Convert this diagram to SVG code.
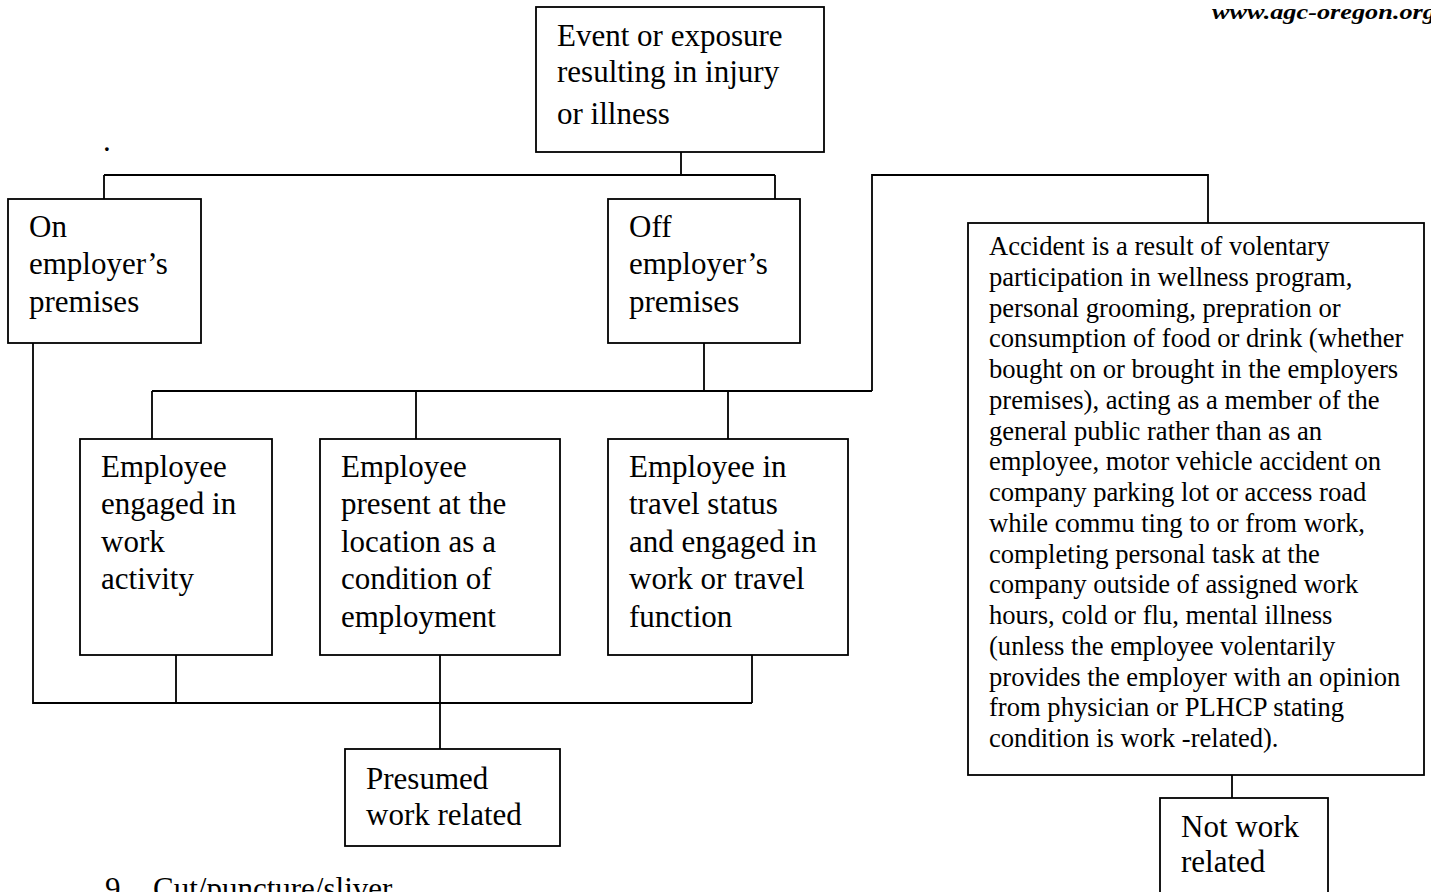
<svg xmlns="http://www.w3.org/2000/svg" width="1431" height="892" viewBox="0 0 1431 892">
<style>
.box{fill:#fff;stroke:#000;stroke-width:1.8}
.ln{fill:none;stroke:#000;stroke-width:1.8}
.big{font-family:"Liberation Serif","Times New Roman",serif;font-size:31px;fill:#000}
.sm{font-family:"Liberation Serif","Times New Roman",serif;font-size:26.6px;fill:#000}
.url{font-family:"Liberation Serif","Times New Roman",serif;font-size:21px;font-style:italic;font-weight:bold;fill:#000}
</style>
<rect width="1431" height="892" fill="#fff"/>
<text class="url" x="1212" y="19" textLength="224" lengthAdjust="spacingAndGlyphs">www.agc-oregon.org</text>
<text class="big" x="103" y="151" font-size="14">.</text>
<g id="connectors">
<path class="ln" d="M681,152V175M104,175H775M104,175V199M775,175V199"/>
<path class="ln" d="M704,343V391M152,391H872M152,391V439M416,391V439M728,391V439M872,391V175H1208V223"/>
<path class="ln" d="M33,343V703H752M176,655V703M440,655V749M752,655V703"/>
<path class="ln" d="M1232,775V798"/>
</g>
<g id="event">
<rect class="box" x="536" y="7" width="288" height="145"/>
<text class="big" x="557"><tspan x="557" y="46">Event or exposure</tspan><tspan x="557" y="82">resulting in injury</tspan><tspan x="557" y="124">or illness</tspan></text>
</g>
<g id="on-premises">
<rect class="box" x="8" y="199" width="193" height="144"/>
<text class="big"><tspan x="29" y="237">On</tspan><tspan x="29" y="274">employer’s</tspan><tspan x="29" y="312">premises</tspan></text>
</g>
<g id="off-premises">
<rect class="box" x="608" y="199" width="192" height="144"/>
<text class="big"><tspan x="629" y="237">Off</tspan><tspan x="629" y="274">employer’s</tspan><tspan x="629" y="312">premises</tspan></text>
</g>
<g id="work-activity">
<rect class="box" x="80" y="439" width="192" height="216"/>
<text class="big"><tspan x="101" y="477">Employee</tspan><tspan x="101" y="514">engaged in</tspan><tspan x="101" y="552">work</tspan><tspan x="101" y="589">activity</tspan></text>
</g>
<g id="present-location">
<rect class="box" x="320" y="439" width="240" height="216"/>
<text class="big"><tspan x="341" y="477">Employee</tspan><tspan x="341" y="514">present at the</tspan><tspan x="341" y="552">location as a</tspan><tspan x="341" y="589">condition of</tspan><tspan x="341" y="627">employment</tspan></text>
</g>
<g id="travel-status">
<rect class="box" x="608" y="439" width="240" height="216"/>
<text class="big"><tspan x="629" y="477">Employee in</tspan><tspan x="629" y="514">travel status</tspan><tspan x="629" y="552">and engaged in</tspan><tspan x="629" y="589">work or travel</tspan><tspan x="629" y="627">function</tspan></text>
</g>
<g id="presumed">
<rect class="box" x="345" y="749" width="215" height="97"/>
<text class="big"><tspan x="366" y="789">Presumed</tspan><tspan x="366" y="825">work related</tspan></text>
</g>
<g id="accident">
<rect class="box" x="968" y="223" width="456" height="552"/>
<text class="sm">
<tspan x="989" y="255">Accident is a result of volentary</tspan>
<tspan x="989" y="285.75">participation in wellness program,</tspan>
<tspan x="989" y="316.5">personal grooming, prepration or</tspan>
<tspan x="989" y="347.25">consumption of food or drink (whether</tspan>
<tspan x="989" y="378">bought on or brought in the employers</tspan>
<tspan x="989" y="408.75">premises), acting as a member of the</tspan>
<tspan x="989" y="439.5">general public rather than as an</tspan>
<tspan x="989" y="470.25">employee, motor vehicle accident on</tspan>
<tspan x="989" y="501">company parking lot or access road</tspan>
<tspan x="989" y="531.75">while commu ting to or from work,</tspan>
<tspan x="989" y="562.5">completing personal task at the</tspan>
<tspan x="989" y="593.25">company outside of assigned work</tspan>
<tspan x="989" y="624">hours, cold or flu, mental illness</tspan>
<tspan x="989" y="654.75">(unless the employee volentarily</tspan>
<tspan x="989" y="685.5">provides the employer with an opinion</tspan>
<tspan x="989" y="716.25">from physician or PLHCP stating</tspan>
<tspan x="989" y="747">condition is work -related).</tspan>
</text>
</g>
<g id="not-work-related">
<rect class="box" x="1160" y="798" width="168" height="110"/>
<text class="big"><tspan x="1181" y="837">Not work</tspan><tspan x="1181" y="872">related</tspan></text>
</g>
<text class="big" x="105" y="899">9</text>
<text class="big" x="153" y="899">Cut/puncture/sliver</text>
</svg>
